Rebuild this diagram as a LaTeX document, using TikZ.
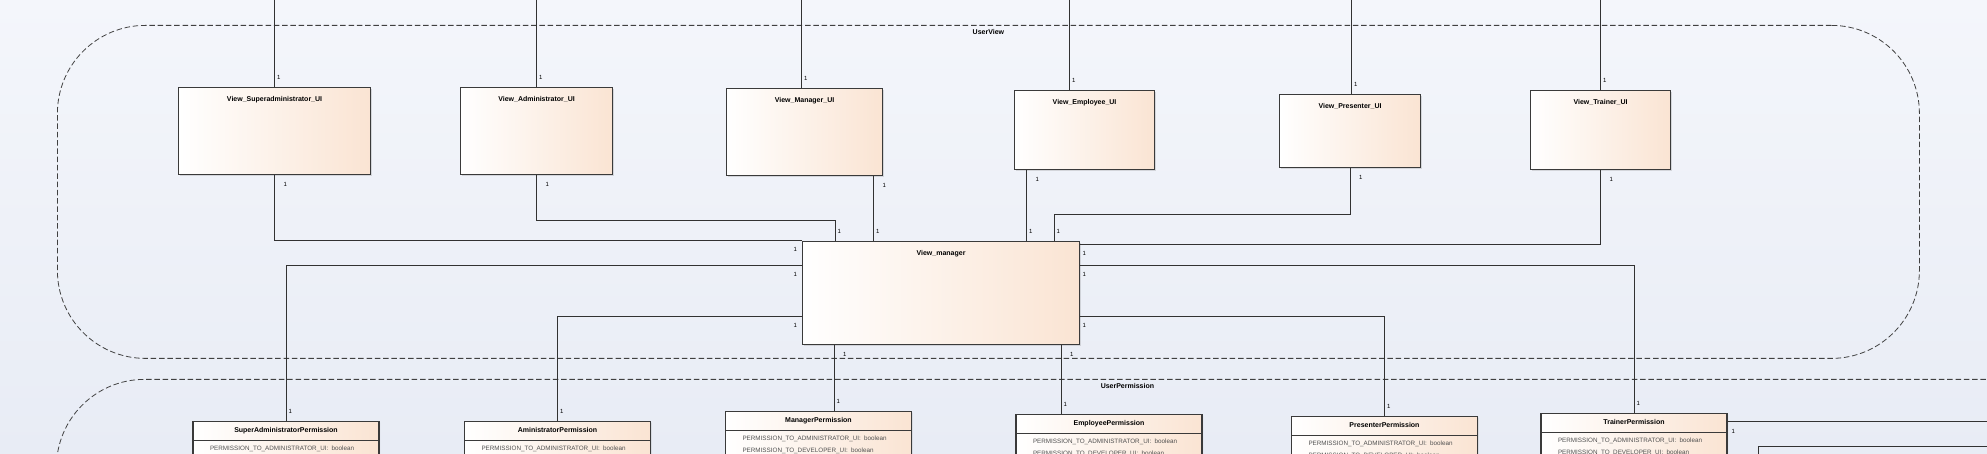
\documentclass[tikz,border=0pt]{standalone}
\usepackage{fontspec}
\setmainfont{Liberation Sans}
\usetikzlibrary{shapes.multipart,shadows}

\definecolor{peach}{RGB}{250,228,211}
\definecolor{boxline}{RGB}{58,58,58}
\definecolor{wirecol}{RGB}{50,50,50}
\definecolor{bgtop}{RGB}{244,246,251}
\definecolor{bgbot}{RGB}{232,236,245}
\definecolor{attrgray}{RGB}{80,80,80}

\newcommand{\titlefont}{\fontsize{7}{8}\selectfont\bfseries}
\newcommand{\attrfont}{\fontsize{6.3}{8.7}\selectfont}
\newcommand{\multfont}{\fontsize{6}{7}\selectfont}
\newcommand{\attrline}[1]{\hspace*{13pt}\textcolor{attrgray}{#1}}
\newcommand{\permtitle}[1]{\centering\titlefont\rule[-2.5pt]{0pt}{9pt}#1\par}

\tikzset{
	uibox/.style 2 args={draw=boxline, line width=1.1pt, left color=white, right color=peach, inner sep=0pt, anchor=north west, font=\titlefont, minimum width=#1, text height=13.5pt, text depth=#2, drop shadow={shadow xshift=1.2pt, shadow yshift=-1.2pt, opacity=0.25}},
	permbox/.style={rectangle split, rectangle split parts=2, draw=boxline, line width=1.1pt, left color=white, right color=peach, text width=178pt, inner xsep=4pt, inner ysep=4.25pt, anchor=north, drop shadow={shadow xshift=1.2pt, shadow yshift=-1.2pt, opacity=0.25}},
	pkg/.style={draw=black!75, dash pattern=on 5.5pt off 2.8pt, line width=0.8pt, rounded corners=88pt, inner sep=0pt, anchor=north west},
	pkgname/.style={font=\titlefont, anchor=north, yshift=-3pt, inner sep=1.5pt},
	wire/.style={draw=wirecol, line width=1pt},
	mult/.style={font=\multfont, inner sep=1.5pt},
	multup/.style={mult, anchor=south west, xshift=0.5pt, yshift=5pt},
	multdown/.style={mult, anchor=north west, xshift=7pt, yshift=-5pt},
	multleft/.style={mult, anchor=north east, xshift=-3pt, yshift=-4.5pt},
	multright/.style={mult, anchor=north west, xshift=0.5pt, yshift=-4pt},
}

\begin{document}
\begin{tikzpicture}[x=1pt, y=1pt]
	\useasboundingbox (0,0) rectangle (1987,454);
	\clip (0,0) rectangle (1987,454);
	\shade[top color=bgtop, bottom color=bgbot] (0,0) rectangle (1987,454);

	\coordinate (topEdge) at (0,470);
	\coordinate (rightEdge) at (2010,0);
	\coordinate (lowEdge) at (0,-20);
	\coordinate (cornerLow) at (1758,7);

	% packages
	\node[pkg, minimum width=1862pt, minimum height=333pt, label={[pkgname, name=lblUserView]north:UserView}](userView) at (57,429){};
	\node[pkg, minimum width=2142pt, minimum height=420pt, label={[pkgname, name=lblUserPermission]north:UserPermission}](userPermission) at (56,75){};

	% view nodes
	\node[uibox={192pt}{73.5pt}](vSuper) at (178,367){View\_Superadministrator\_UI};
	\node[uibox={152pt}{73.5pt}](vAdmin) at (460,367){View\_Administrator\_UI};
	\node[uibox={156pt}{73.5pt}](vMgrUI) at (726,366){View\_Manager\_UI};
	\node[uibox={140pt}{65.5pt}](vEmp) at (1014,364){View\_Employee\_UI};
	\node[uibox={141pt}{59.5pt}](vPres) at (1279,360){View\_Presenter\_UI};
	\node[uibox={140pt}{65.5pt}](vTrain) at (1530,364){View\_Trainer\_UI};
	\node[uibox={277pt}{89.5pt}](vManager) at (802,213){View\_manager};

	% permission nodes
	\node[permbox](pSuper) at (286,33){\permtitle{SuperAdministratorPermission}
		\nodepart{two}\attrfont\rule{0pt}{6pt}\attrline{PERMISSION\_TO\_ADMINISTRATOR\_UI: boolean}\\[14pt]};
	\node[permbox](pAdmin) at (557.5,33){\permtitle{AministratorPermission}
		\nodepart{two}\attrfont\rule{0pt}{6pt}\attrline{PERMISSION\_TO\_ADMINISTRATOR\_UI: boolean}\\[14pt]};
	\node[permbox](pMgr) at (818.5,43){\permtitle{ManagerPermission}
		\nodepart{two}\attrfont\rule{0pt}{6pt}\attrline{PERMISSION\_TO\_ADMINISTRATOR\_UI: boolean}\\\attrline{PERMISSION\_TO\_DEVELOPER\_UI: boolean}};
	\node[permbox](pEmp) at (1109,40){\permtitle{EmployeePermission}
		\nodepart{two}\attrfont\rule{0pt}{6pt}\attrline{PERMISSION\_TO\_ADMINISTRATOR\_UI: boolean}\\\attrline{PERMISSION\_TO\_DEVELOPER\_UI: boolean}};
	\node[permbox](pPres) at (1384.5,38){\permtitle{PresenterPermission}
		\nodepart{two}\attrfont\rule{0pt}{6pt}\attrline{PERMISSION\_TO\_ADMINISTRATOR\_UI: boolean}\\\attrline{PERMISSION\_TO\_DEVELOPER\_UI: boolean}};
	\node[permbox](pTrain) at (1634,41){\permtitle{TrainerPermission}
		\nodepart{two}\attrfont\rule{0pt}{6pt}\attrline{PERMISSION\_TO\_ADMINISTRATOR\_UI: boolean}\\\attrline{PERMISSION\_TO\_DEVELOPER\_UI: boolean}};

	% draw links to the top
	\draw[wire] (vSuper.north) node[multup](mSupTop){1} -- (vSuper.north |- topEdge);
	\draw[wire] (vAdmin.north) node[multup](mAdmTop){1} -- (vAdmin.north |- topEdge);
	\draw[wire] ([xshift=-3pt]vMgrUI.north) node[multup](mMgrTop){1} -- ([xshift=-3pt]vMgrUI.north |- topEdge);
	\draw[wire] ([xshift=-15pt]vEmp.north) node[multup](mEmpTop){1} -- ([xshift=-15pt]vEmp.north |- topEdge);
	\draw[wire] ([xshift=1.5pt]vPres.north) node[multup](mPresTop){1} -- ([xshift=1.5pt]vPres.north |- topEdge);
	\draw[wire] (vTrain.north) node[multup](mTrainTop){1} -- (vTrain.north |- topEdge);

	% draw view edges
	\draw[wire] (vSuper.south) node[multdown](mSupBot){1} |- (vManager.north west) node[multleft](mManSup){1};
	\draw[wire] (vAdmin.south) node[multdown](mAdmBot){1} |- ([xshift=33pt, yshift=20pt]vManager.north west) -- ([xshift=33pt]vManager.north west) node[multup](mManAdm){1};
	\draw[wire] ([xshift=69pt]vMgrUI.south) node[multdown](mMgrBot){1} -- ([xshift=69pt]vMgrUI.south |- vManager.north) node[multup](mManMgr){1};
	\draw[wire] ([xshift=-58pt]vEmp.south) node[multdown](mEmpBot){1} -- ([xshift=-58pt]vEmp.south |- vManager.north) node[multup](mManEmp){1};
	\draw[wire] (vPres.south) node[multdown](mPresBot){1} |- ([xshift=252pt, yshift=26pt]vManager.north west) -- ([xshift=252pt]vManager.north west) node[multup](mManPres){1};
	\draw[wire] (vTrain.south) node[multdown](mTrainBot){1} |- ([yshift=-4pt]vManager.north east) node[multright](mManTrain){1};

	% draw permission edges
	\draw[wire] ([yshift=-25pt]vManager.north west) node[multleft](mManPSup){1} -| (pSuper.north) node[multup](mPSup){1};
	\draw[wire] ([yshift=-76pt]vManager.north west) node[multleft](mManPAdm){1} -| (pAdmin.north) node[multup](mPAdm){1};
	\draw[wire] ([xshift=32pt]vManager.south west) node[multdown](mManPMgr){1} -- ([xshift=32pt]vManager.south west |- pMgr.north) node[multup](mPMgr){1};
	\draw[wire] ([xshift=259pt]vManager.south west) node[multdown](mManPEmp){1} -- ([xshift=259pt]vManager.south west |- pEmp.north) node[multup](mPEmp){1};
	\draw[wire] ([yshift=-76pt]vManager.north east) node[multright](mManPPres){1} -| (pPres.north) node[multup](mPPres){1};
	\draw[wire] ([yshift=-25pt]vManager.north east) node[multright](mManPTrain){1} -| (pTrain.north) node[multup](mPTrain){1};
	\draw[wire] ([yshift=-9pt]pTrain.north east) node[mult, anchor=north west, xshift=2pt, yshift=-5pt](mPTrainOut){1} -- ([yshift=-9pt]pTrain.north east -| rightEdge);
	\draw[wire] (cornerLow |- lowEdge) -- (cornerLow) -- (cornerLow -| rightEdge);
\end{tikzpicture}
\end{document}
